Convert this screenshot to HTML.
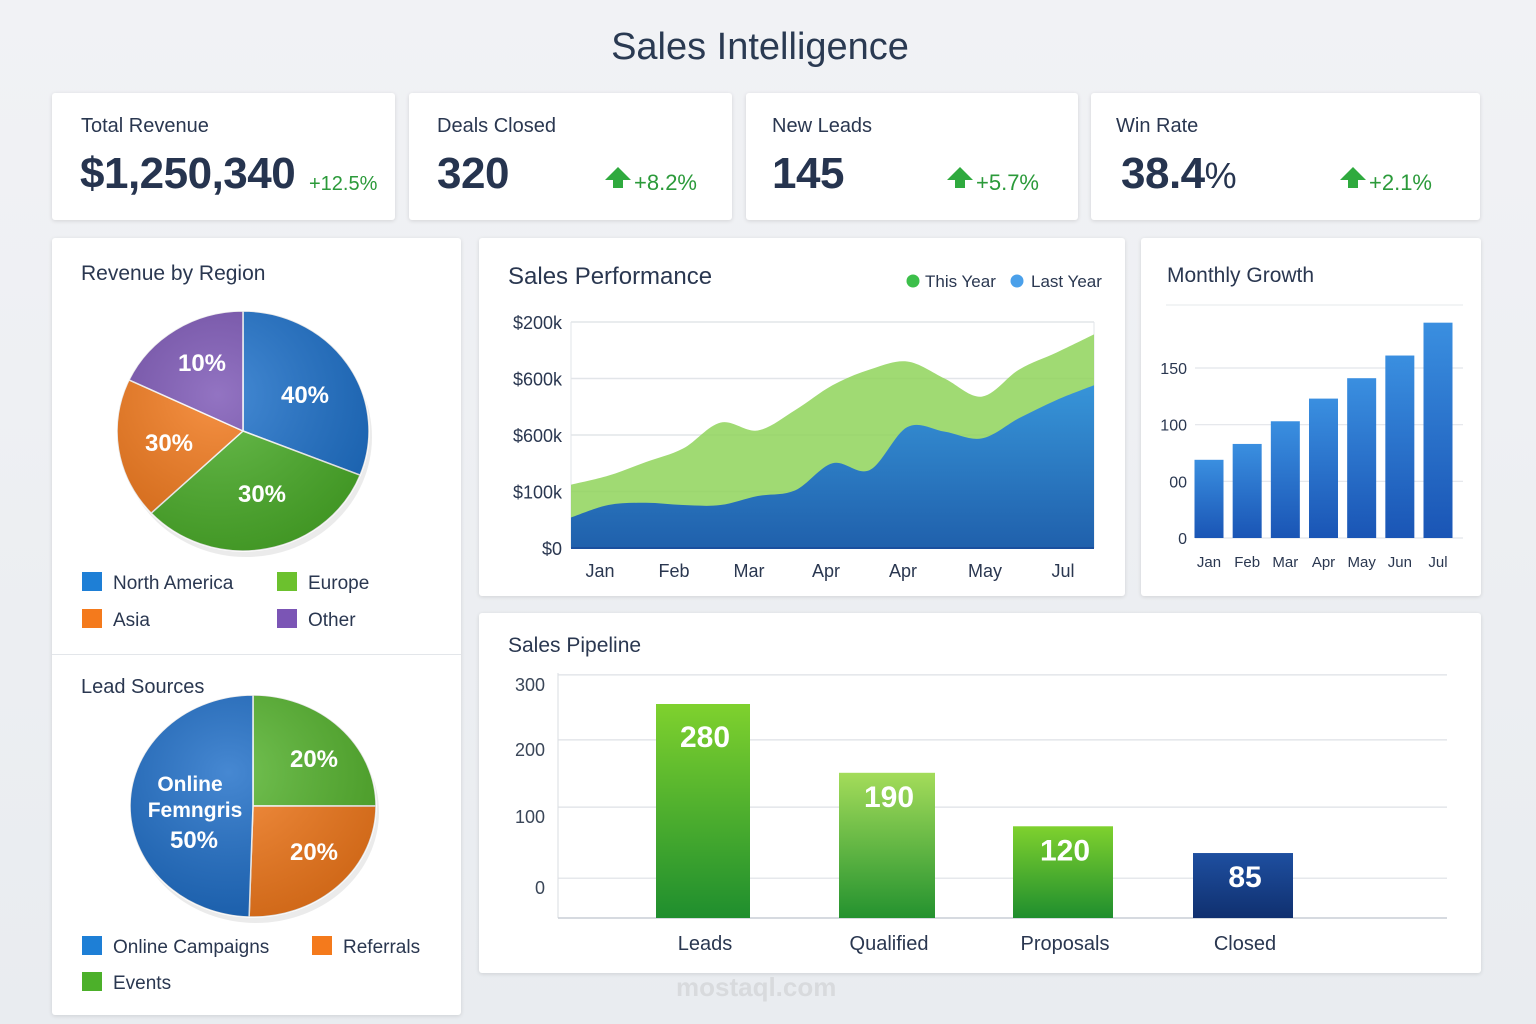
<!DOCTYPE html>
<html><head><meta charset="utf-8"><style>
*{box-sizing:border-box;margin:0;padding:0}
body{width:1536px;height:1024px;background:linear-gradient(180deg,#f1f2f5,#e9ecf0);font-family:"Liberation Sans",sans-serif;color:#2a3750;position:relative;overflow:hidden}
.card{position:absolute;background:#fff;border-radius:3px;box-shadow:0 1px 4px rgba(0,0,0,.12)}
.abs{position:absolute;white-space:nowrap}
.kl{font-size:20px;color:#2a3750;top:22px}
.kv{font-size:44px;font-weight:bold;color:#26344f;top:56px;letter-spacing:-0.5px}
.kc{font-size:22px;color:#2b9a3a;top:77px}
.arrow{display:inline-block;width:0;height:0;border-left:13px solid transparent;border-right:13px solid transparent;border-bottom:13px solid #2faa3e;position:relative;top:-10px;margin-right:3px}
.arrow:after{content:"";position:absolute;left:-5px;top:12px;width:10px;height:9px;background:#2faa3e}
.ct{font-size:22px;color:#2a3750}
svg text{font-family:"Liberation Sans",sans-serif}
</style></head><body>
<div class="abs" style="left:0;width:1520px;text-align:center;top:26px;font-size:38px;color:#2a3a52">Sales Intelligence</div>

<div class="card" style="left:52px;top:93px;width:343px;height:127px">
 <div class="abs kl" style="left:29px">Total Revenue</div>
 <div class="abs kv" style="left:28px">$1,250,340</div>
 <div class="abs kc" style="left:257px;font-size:20px;top:80px">+12.5%</div>
</div>
<div class="card" style="left:409px;top:93px;width:323px;height:127px">
 <div class="abs kl" style="left:28px">Deals Closed</div>
 <div class="abs kv" style="left:28px">320</div>
 <div class="abs kc" style="left:196px"><span class="arrow"></span>+8.2%</div>
</div>
<div class="card" style="left:746px;top:93px;width:332px;height:127px">
 <div class="abs kl" style="left:26px">New Leads</div>
 <div class="abs kv" style="left:26px">145</div>
 <div class="abs kc" style="left:201px"><span class="arrow"></span>+5.7%</div>
</div>
<div class="card" style="left:1091px;top:93px;width:389px;height:127px">
 <div class="abs kl" style="left:25px">Win Rate</div>
 <div class="abs kv" style="left:30px">38.4<span style="font-weight:normal;font-size:36px">%</span></div>
 <div class="abs kc" style="left:249px"><span class="arrow"></span>+2.1%</div>
</div>

<div class="card" style="left:52px;top:238px;width:409px;height:777px"></div>
<div class="abs" style="left:52px;top:654px;width:409px;height:1px;background:#e3e6ea"></div>
<div class="abs ct" style="left:81px;top:262px;font-size:21px">Revenue by Region</div>
<div class="abs ct" style="left:81px;top:676px;font-size:20px">Lead Sources</div>

<div class="card" style="left:479px;top:238px;width:646px;height:358px"></div>
<div class="abs ct" style="left:508px;top:263px;font-size:24px">Sales Performance</div>
<div class="card" style="left:1141px;top:238px;width:340px;height:358px"></div>
<div class="abs ct" style="left:1167px;top:264px;font-size:21px">Monthly Growth</div>
<div class="card" style="left:479px;top:613px;width:1002px;height:360px"></div>
<div class="abs ct" style="left:508px;top:634px;font-size:21px">Sales Pipeline</div>

<svg id="svg" width="1536" height="1024" style="position:absolute;left:0;top:0">
<defs>
 <linearGradient id="gBlue" x1="0" y1="0" x2="0" y2="1"><stop offset="0" stop-color="#2f8fe0"/><stop offset="1" stop-color="#1657b0"/></linearGradient>
 <linearGradient id="gBar" x1="0" y1="0" x2="0" y2="1"><stop offset="0" stop-color="#3a8fe0"/><stop offset="1" stop-color="#1a55b5"/></linearGradient>
 <linearGradient id="gGreen" x1="0" y1="0" x2="0" y2="1"><stop offset="0" stop-color="#7fd12e"/><stop offset="1" stop-color="#1f8e2e"/></linearGradient>
 <linearGradient id="gGreen2" x1="0" y1="0" x2="0" y2="1"><stop offset="0" stop-color="#a4dc5a"/><stop offset="1" stop-color="#24922f"/></linearGradient>
 <linearGradient id="gNavy" x1="0" y1="0" x2="0" y2="1"><stop offset="0" stop-color="#1e4fa0"/><stop offset="1" stop-color="#10306f"/></linearGradient>
 <radialGradient id="shade" cx="0.4" cy="0.35" r="0.7"><stop offset="0" stop-color="#fff" stop-opacity="0.18"/><stop offset="1" stop-color="#000" stop-opacity="0.15"/></radialGradient>
</defs>
</svg>
<div class="abs" style="left:676px;top:972px;font-size:26px;color:#d8dadd;font-weight:bold">mostaql.com</div>

<script>
// ---------- Sales Performance data ----------
const perfXLabels = ["Jan","Feb","Mar","Apr","Apr","May","Jul"];
const perfTickValues = [0,50,100,150,200];
const perfTickLabels = ["$0","$100k","$600k","$600k","$200k"];
const thisYear = [56,64,76,88,111,104,122,144,158,165,150,134,158,173,189];
const lastYear = [27,38,40,38,38,46,51,75,69,107,103,97,115,131,144];
// ---------- Monthly Growth ----------
const growthMonths = ["Jan","Feb","Mar","Apr","May","Jun","Jul"];
const growthValues = [69,83,103,123,141,161,190];
const growthTickValues = [0,50,100,150];
const growthTickLabels = ["0","00","100","150"];
// ---------- Pipeline ----------
const pipeStages = ["Leads","Qualified","Proposals","Closed"];
const pipeValues = [280,190,120,85];
const pipeTickValues = [39,132,220,305];
const pipeTickLabels = ["0","100","200","300"];
// ---------- Pies ----------
const regionNames = ["North America","Europe","Asia","Other"];
const regionShares = [31,32,19,18];
const regionLabels = ["40%","30%","30%","10%"];
const leadNames = ["Events","Referrals","Online Campaigns"];
const leadShares = [25,25.5,49.5];
const leadLabels = ["20%","20%","50%"];

const svg=document.getElementById('svg');
const NS='http://www.w3.org/2000/svg';
function mk(tag,attrs,parent){const e=document.createElementNS(NS,tag);for(const k in attrs)e.setAttribute(k,attrs[k]);(parent||svg).appendChild(e);return e;}
function txt(x,y,s,attrs){const t=mk('text',Object.assign({x:x,y:y},attrs));t.textContent=s;return t;}
function smooth(pts){let d='M'+pts[0][0]+','+pts[0][1];for(let i=0;i<pts.length-1;i++){const p0=pts[Math.max(0,i-1)],p1=pts[i],p2=pts[i+1],p3=pts[Math.min(pts.length-1,i+2)];d+=' C'+(p1[0]+(p2[0]-p0[0])/6)+','+(p1[1]+(p2[1]-p0[1])/6)+' '+(p2[0]-(p3[0]-p1[0])/6)+','+(p2[1]-(p3[1]-p1[1])/6)+' '+p2[0]+','+p2[1];}return d;}

// ---- Sales performance ----
(function(){
 const L=571,R=1094,T=322,B=548;
 const y=v=>B-(v/200)*(B-T);
 const x=i=>L+i*(R-L)/(thisYear.length-1);
 perfTickValues.forEach((v,i)=>{
  const g=mk('line',{x1:L,x2:R,y1:y(v),y2:y(v),stroke:'#e2e5e9','stroke-width':1.5});
  
  const t=txt(562,y(v)+7,perfTickLabels[i],{'text-anchor':'end','font-size':18,fill:'#2a3750'});
  
 });
 mk('line',{x1:L,x2:L,y1:T,y2:B,stroke:'#e2e5e9'});
 mk('line',{x1:R,x2:R,y1:T,y2:B,stroke:'#e2e5e9'});
 const pg=thisYear.map((v,i)=>[x(i),y(v)]);
 const a1=mk('path',{d:smooth(pg)+' L'+R+','+B+' L'+L+','+B+'Z',fill:'#8fd45a',opacity:0.85});
 
 const pb=lastYear.map((v,i)=>[x(i),y(v)]);
 const a2=mk('path',{d:smooth(pb)+' L'+R+','+B+' L'+L+','+B+'Z',fill:'url(#gBlue)',opacity:0.93});
 
 mk('line',{x1:L,x2:R,y1:B,y2:B,stroke:'#1a4f9e','stroke-width':2});
 const lx=[600,674,749,826,903,985,1063];
 perfXLabels.forEach((m,i)=>{const t=txt(lx[i],577,m,{'text-anchor':'middle','font-size':18,fill:'#2a3750'});
  });
 const c1=mk('circle',{cx:913,cy:281,r:6.5,fill:'#3cbf4a'});
 const t1=txt(925,287,'This Year',{'font-size':17,fill:'#2a3750'});
 const c2=mk('circle',{cx:1017,cy:281,r:6.5,fill:'#4aa0ea'});
 const t2=txt(1031,287,'Last Year',{'font-size':17,fill:'#2a3750'});
})();

// ---- Monthly growth ----
(function(){
 const L=1195,R=1463,B=538,ppu=170/150;
 const y=v=>B-v*ppu;
 mk('line',{x1:1166,x2:1463,y1:305,y2:305,stroke:'#e6e8eb'});
 growthTickValues.forEach((v,i)=>{
  const g=mk('line',{x1:L,x2:R,y1:y(v),y2:y(v),stroke:'#e2e5e9','stroke-width':1.2});
  
  const t=txt(1187,y(v)+6,growthTickLabels[i],{'text-anchor':'end','font-size':16,fill:'#2a3750'});
  
 });
 const step=(1438-1209)/(growthValues.length-1);
 growthValues.forEach((v,i)=>{
  const cx=1209+i*step;
  const r=mk('rect',{x:cx-14.5,y:y(v),width:29,height:v*ppu,fill:'url(#gBar)'});
  
  const t=txt(cx,567,growthMonths[i],{'text-anchor':'middle','font-size':15,fill:'#2a3750'});
  
 });
})();

// ---- Pipeline ----
(function(){
 const L=558,R=1447,B=918,ppu=(918-704)/280;
 const y=v=>B-v*ppu;
 mk('line',{x1:L,x2:L,y1:673,y2:B,stroke:'#d8dce1'});
 pipeTickValues.forEach((v,i)=>{
  const g=mk('line',{x1:L,x2:R,y1:y(v)-10,y2:y(v)-10,stroke:'#dde0e5','stroke-width':1.2});
  
  const t=txt(545,y(v)+6,pipeTickLabels[i],{'text-anchor':'end','font-size':18,fill:'#3a4658'});
  
 });
 mk('line',{x1:L,x2:R,y1:B,y2:B,stroke:'#c9ced5','stroke-width':1.5});
 const cxs=[703,887,1063,1243],ws=[94,96,100,100],fills=['url(#gGreen)','url(#gGreen2)','url(#gGreen)','url(#gNavy)'];
 pipeValues.forEach((v,i)=>{
  const r=mk('rect',{x:cxs[i]-ws[i]/2,y:y(v),width:ws[i],height:v*ppu,fill:fills[i]});
  
  const t=txt(cxs[i]+2,y(v)+(i==0?43:34),String(v),{'text-anchor':'middle','font-size':30,'font-weight':'bold',fill:'#fff'});
  
  const l=txt(cxs[i]+2,950,pipeStages[i],{'text-anchor':'middle','font-size':20,fill:'#2a3750'});
  
 });
})();

// ---- Pies ----
function pie(cx,cy,rx,ry,shares,start,colors,names,prefix){
 const tot=shares.reduce((a,b)=>a+b,0);let a=start;
 const P=ang=>[cx+rx*Math.sin(ang*Math.PI/180),cy-ry*Math.cos(ang*Math.PI/180)];
 mk('ellipse',{cx:cx+3,cy:cy+6,rx:rx,ry:ry,fill:'#000',opacity:0.08});
 shares.forEach((s,i)=>{
  const sw=s/tot*360,p1=P(a),p2=P(a+sw);
  const d='M'+cx+','+cy+' L'+p1[0]+','+p1[1]+' A'+rx+','+ry+' 0 '+(sw>180?1:0)+' 1 '+p2[0]+','+p2[1]+'Z';
  const p=mk('path',{d:d,fill:colors[i],stroke:'#fff','stroke-width':1.5});
  
  
  a+=sw;
 });
 mk('ellipse',{cx:cx,cy:cy,rx:rx,ry:ry,fill:'url(#shade)'});
}
pie(243,431,126,120,regionShares,0,['#1e72cc','#4cb02a','#f47a1c','#7b55b5'],regionNames,'region');
[[305,403,0],[262,502,1],[169,451,2],[202,371,3]].forEach(p=>{
 const t=txt(p[0],p[1],regionLabels[p[2]],{'text-anchor':'middle','font-size':24,'font-weight':'bold',fill:'#fff'});
 });
pie(253,806,123,111,leadShares,0,['#56b52e','#f47a1c','#1e6ec8'],leadNames,'lead');
[[314,767,0],[314,860,1]].forEach(p=>{
 const t=txt(p[0],p[1],leadLabels[p[2]],{'text-anchor':'middle','font-size':24,'font-weight':'bold',fill:'#fff'});
 });
[[190,791,'Online'],[195,817,'Femngris'],[194,848,leadLabels[2]]].forEach((p,i)=>{
 const t=txt(p[0],p[1],p[2],{'text-anchor':'middle','font-size':i==2?24:21,'font-weight':'bold',fill:'#fff'});
 });

// ---- Legends ----
[[82,572,'#1e7fd6','North America'],[277,572,'#6cc12e','Europe'],[82,609,'#f47a1c','Asia'],[277,609,'#7b55b5','Other'],
 [82,936,'#1e7fd6','Online Campaigns'],[312,936,'#f47a1c','Referrals'],[82,972,'#4cb02a','Events']].forEach(l=>{
 const r=mk('rect',{x:l[0],y:l[1],width:20,height:19,fill:l[2]});
 
 const t=txt(l[0]+31,l[1]+17,l[3],{'font-size':19,fill:'#2a3750'});
 
});
</script>
</body></html>
